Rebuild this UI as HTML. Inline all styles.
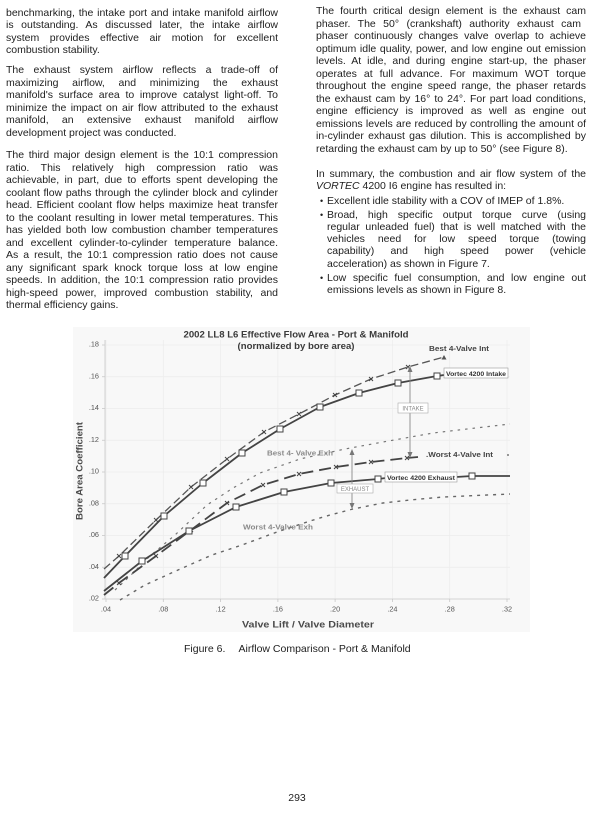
<!DOCTYPE html>
<html><head><meta charset="utf-8">
<style>
html,body{margin:0;padding:0;background:#fff;}
body{width:600px;height:815px;position:relative;overflow:hidden;}
.t{position:absolute;font-family:"Liberation Sans",Arial,sans-serif;font-size:10.5px;line-height:12.5px;color:#1e1e1e;white-space:nowrap;}
.L{left:6px;width:272px;}
.R{left:316px;width:270px;}
.B{left:327px;width:259px;}
.j{text-align:justify;text-align-last:justify;}
.bu{position:absolute;left:320px;font-family:"Liberation Sans",Arial,sans-serif;font-size:9px;line-height:12.5px;color:#1e1e1e;}
svg{position:absolute;left:0;top:0;}
</style></head><body>

<!-- Left column -->
<div class="t L j" style="top:6.8px">benchmarking, the intake port and intake manifold airflow</div>
<div class="t L j" style="top:19.3px">is outstanding. As discussed later, the intake airflow</div>
<div class="t L j" style="top:31.8px">system provides effective air motion for excellent</div>
<div class="t L" style="top:44.3px">combustion stability.</div>

<div class="t L j" style="top:64px">The exhaust system airflow reflects a trade-off of</div>
<div class="t L j" style="top:76.6px">maximizing airflow, and minimizing the exhaust</div>
<div class="t L j" style="top:89.2px">manifold's surface area to improve catalyst light-off. To</div>
<div class="t L j" style="top:101.8px">minimize the impact on air flow attributed to the exhaust</div>
<div class="t L j" style="top:114.4px">manifold, an extensive exhaust manifold airflow</div>
<div class="t L" style="top:127px">development project was conducted.</div>

<div class="t L j" style="top:149.3px">The third major design element is the 10:1 compression</div>
<div class="t L j" style="top:161.8px">ratio. This relatively high compression ratio was</div>
<div class="t L j" style="top:174.3px">achievable, in part, due to efforts spent developing the</div>
<div class="t L j" style="top:186.8px">coolant flow paths through the cylinder block and cylinder</div>
<div class="t L j" style="top:199.3px">head. Efficient coolant flow helps maximize heat transfer</div>
<div class="t L j" style="top:211.8px">to the coolant resulting in lower metal temperatures. This</div>
<div class="t L j" style="top:224.3px">has yielded both low combustion chamber temperatures</div>
<div class="t L j" style="top:236.8px">and excellent cylinder-to-cylinder temperature balance.</div>
<div class="t L j" style="top:249.3px">As a result, the 10:1 compression ratio does not cause</div>
<div class="t L j" style="top:261.8px">any significant spark knock torque loss at low engine</div>
<div class="t L j" style="top:274.3px">speeds. In addition, the 10:1 compression ratio provides</div>
<div class="t L j" style="top:286.8px">high-speed power, improved combustion stability, and</div>
<div class="t L" style="top:299.3px">thermal efficiency gains.</div>

<!-- Right column -->
<div class="t R j" style="top:5.2px">The fourth critical design element is the exhaust cam</div>
<div class="t R j" style="top:17.7px;width:265px">phaser. The 50° (crankshaft) authority exhaust cam</div>
<div class="t R j" style="top:30.2px">phaser continuously changes valve overlap to achieve</div>
<div class="t R j" style="top:42.6px">optimum idle quality, power, and low engine out emission</div>
<div class="t R j" style="top:55.1px">levels. At idle, and during engine start-up, the phaser</div>
<div class="t R j" style="top:67.6px">operates at full advance. For maximum WOT torque</div>
<div class="t R j" style="top:80.1px">throughout the engine speed range, the phaser retards</div>
<div class="t R j" style="top:92.6px">the exhaust cam by 16° to 24°. For part load conditions,</div>
<div class="t R j" style="top:105px">engine efficiency is improved as well as engine out</div>
<div class="t R j" style="top:117.5px">emissions levels are reduced by controlling the amount of</div>
<div class="t R j" style="top:130px">in-cylinder exhaust gas dilution. This is accomplished by</div>
<div class="t R" style="top:142.5px">retarding the exhaust cam by up to 50° (see Figure 8).</div>

<div class="t R j" style="top:167.5px">In summary, the combustion and air flow system of the</div>
<div class="t R" style="top:179.8px"><i>VORTEC</i> 4200 I6 engine has resulted in:</div>

<div class="bu" style="top:195.2px">•</div>
<div class="t B" style="top:195.2px">Excellent idle stability with a COV of IMEP of 1.8%.</div>

<div class="bu" style="top:208.5px">•</div>
<div class="t B j" style="top:208.5px">Broad, high specific output torque curve (using</div>
<div class="t B j" style="top:220.8px">regular unleaded fuel) that is well matched with the</div>
<div class="t B j" style="top:233.1px">vehicles need for low speed torque (towing</div>
<div class="t B j" style="top:245.4px">capability) and high speed power (vehicle</div>
<div class="t B" style="top:257.7px">acceleration) as shown in Figure 7.</div>

<div class="bu" style="top:271.8px">•</div>
<div class="t B j" style="top:271.8px">Low specific fuel consumption, and low engine out</div>
<div class="t B" style="top:284.1px">emissions levels as shown in Figure 8.</div>

<svg width="600" height="815" viewBox="0 0 600 815" xmlns="http://www.w3.org/2000/svg" font-family="Liberation Sans, Arial, sans-serif">
  <!-- chart background -->
  <rect x="73" y="327" width="457" height="305" fill="#f8f8f8"/>
  <!-- grid -->
  <g stroke="#ececec" stroke-width="0.7">
    <line x1="106" y1="340" x2="106" y2="599"/>
    <line x1="163.3" y1="340" x2="163.3" y2="599"/>
    <line x1="220.6" y1="340" x2="220.6" y2="599"/>
    <line x1="277.9" y1="340" x2="277.9" y2="599"/>
    <line x1="335.1" y1="340" x2="335.1" y2="599"/>
    <line x1="392.4" y1="340" x2="392.4" y2="599"/>
    <line x1="449.7" y1="340" x2="449.7" y2="599"/>
    <line x1="507" y1="340" x2="507" y2="599"/>
    <line x1="105" y1="567.25" x2="510" y2="567.25"/>
    <line x1="105" y1="535.5" x2="510" y2="535.5"/>
    <line x1="105" y1="503.75" x2="510" y2="503.75"/>
    <line x1="105" y1="472" x2="510" y2="472"/>
    <line x1="105" y1="440.25" x2="510" y2="440.25"/>
    <line x1="105" y1="408.5" x2="510" y2="408.5"/>
    <line x1="105" y1="376.75" x2="510" y2="376.75"/>
    <line x1="105" y1="345" x2="510" y2="345"/>
  </g>
  <!-- axes -->
  <g stroke="#c8c8c8" stroke-width="0.8">
    <line x1="105" y1="340" x2="105" y2="599"/>
    <line x1="105" y1="599" x2="510" y2="599"/>
    <line x1="102" y1="599" x2="105" y2="599"/><line x1="102" y1="567.25" x2="105" y2="567.25"/>
    <line x1="102" y1="535.5" x2="105" y2="535.5"/><line x1="102" y1="503.75" x2="105" y2="503.75"/>
    <line x1="102" y1="472" x2="105" y2="472"/><line x1="102" y1="440.25" x2="105" y2="440.25"/>
    <line x1="102" y1="408.5" x2="105" y2="408.5"/><line x1="102" y1="376.75" x2="105" y2="376.75"/>
    <line x1="102" y1="345" x2="105" y2="345"/>
    <line x1="106" y1="599" x2="106" y2="602"/><line x1="163.3" y1="599" x2="163.3" y2="602"/>
    <line x1="220.6" y1="599" x2="220.6" y2="602"/><line x1="277.9" y1="599" x2="277.9" y2="602"/>
    <line x1="335.1" y1="599" x2="335.1" y2="602"/><line x1="392.4" y1="599" x2="392.4" y2="602"/>
    <line x1="449.7" y1="599" x2="449.7" y2="602"/><line x1="507" y1="599" x2="507" y2="602"/>
  </g>
  <!-- y tick labels -->
  <g font-size="7.3" fill="#555" text-anchor="end">
    <text x="99" y="346.7">.18</text>
    <text x="99" y="378.5">.16</text>
    <text x="99" y="410.2">.14</text>
    <text x="99" y="442">.12</text>
    <text x="99" y="473.7">.10</text>
    <text x="99" y="505.5">.08</text>
    <text x="99" y="537.2">.06</text>
    <text x="99" y="569">.04</text>
    <text x="99" y="600.7">.02</text>
  </g>
  <!-- x tick labels -->
  <g font-size="7.3" fill="#555" text-anchor="middle">
    <text x="106" y="611.5">.04</text>
    <text x="163.3" y="611.5">.08</text>
    <text x="220.6" y="611.5">.12</text>
    <text x="277.9" y="611.5">.16</text>
    <text x="335.1" y="611.5">.20</text>
    <text x="392.4" y="611.5">.24</text>
    <text x="449.7" y="611.5">.28</text>
    <text x="507" y="611.5">.32</text>
  </g>
  <!-- titles -->
  <text x="296" y="337.7" font-size="9.5" font-weight="bold" fill="#3a3a3a" text-anchor="middle" textLength="225" lengthAdjust="spacingAndGlyphs">2002 LL8 L6 Effective Flow Area - Port &amp; Manifold</text>
  <text x="296" y="349" font-size="9.5" font-weight="bold" fill="#3a3a3a" text-anchor="middle" textLength="117" lengthAdjust="spacingAndGlyphs">(normalized by bore area)</text>
  <text x="308" y="627.5" font-size="9.5" font-weight="bold" fill="#4a4a4a" text-anchor="middle" textLength="132" lengthAdjust="spacingAndGlyphs">Valve Lift / Valve Diameter</text>
  <text transform="translate(82.3,471) rotate(-90)" font-size="9" font-weight="bold" fill="#4a4a4a" text-anchor="middle" textLength="98" lengthAdjust="spacingAndGlyphs">Bore Area Coefficient</text>

  <!-- Worst 4-Valve Exh (dotted) -->
  <polyline fill="none" stroke="#666" stroke-width="1.4" stroke-dasharray="3 5"
    points="120,600 145,585 178,570 212,555 242,545 277,532 310,521 330,515 353,509 383,503 410,500 443,497 510,494"/>
  <!-- Best 4-Valve Exh (dotted fine) -->
  <polyline fill="none" stroke="#777" stroke-width="1.2" stroke-dasharray="2.5 5"
    points="115,590 130,576 150,556 175,535 207,505 233,488 260,473 300,459 345,449 383,442 433,433 510,424"/>
  <!-- Worst 4-Valve Int (long dash) -->
  <polyline fill="none" stroke="#444" stroke-width="1.8" stroke-dasharray="12 6"
    points="104,595 119,583 156,556 191,530 227,503 263,485 299,474 336,467 371,462 407,458 418,457"/>
  <!-- Best 4-Valve Int (dashed) -->
  <polyline fill="none" stroke="#555" stroke-width="1.3" stroke-dasharray="8 4"
    points="104,569 119,556 156,520 191,487 227,459 264,432 299,414 335,395 371,379 408,367 444,357"/>
  <!-- Vortec Intake (solid) -->
  <polyline fill="none" stroke="#444" stroke-width="1.8" stroke-linejoin="round"
    points="104,578 125,556 164,516 203,483 242,453 280,429 320,407 359,393 398,383 437,376 444,375"/>
  <!-- Vortec Exhaust (solid) -->
  <polyline fill="none" stroke="#444" stroke-width="1.8" stroke-linejoin="round"
    points="104,591 142,561 189,531 236,507 284,492 331,483 378,479 386,478"/>
  <polyline fill="none" stroke="#444" stroke-width="1.8" points="456,477 472,476 510,476"/>

  <!-- x markers -->
  <g stroke="#444" stroke-width="1" fill="none">
    <path d="M117,554L121,558M121,554L117,558 M154,518L158,522M158,518L154,522 M189,485L193,489M193,485L189,489 M225,457L229,461M229,457L225,461 M262,430L266,434M266,430L262,434 M297,412L301,416M301,412L297,416 M333,393L337,397M337,393L333,397 M369,377L373,381M373,377L369,381 M406,365L410,369M410,365L406,369"/>
    <path d="M117,581L121,585M121,581L117,585 M154,554L158,558M158,554L154,558 M189,528L193,532M193,528L189,532 M225,501L229,505M229,501L225,505 M261,483L265,487M265,483L261,487 M297,472L301,476M301,472L297,476 M334,465L338,469M338,465L334,469 M369,460L373,464M373,460L369,464 M405,456L409,460M409,456L405,460"/>
  </g>
  <polygon points="444,355 441.5,359.5 446.5,359.5" fill="#555"/>

  <!-- square markers -->
  <g fill="#fff" stroke="#444" stroke-width="1">
    <rect x="122" y="553" width="6" height="6"/><rect x="161" y="513" width="6" height="6"/>
    <rect x="200" y="480" width="6" height="6"/><rect x="239" y="450" width="6" height="6"/>
    <rect x="277" y="426" width="6" height="6"/><rect x="317" y="404" width="6" height="6"/>
    <rect x="356" y="390" width="6" height="6"/><rect x="395" y="380" width="6" height="6"/>
    <rect x="434" y="373" width="6" height="6"/>
    <rect x="139" y="558" width="6" height="6"/><rect x="186" y="528" width="6" height="6"/>
    <rect x="233" y="504" width="6" height="6"/><rect x="281" y="489" width="6" height="6"/>
    <rect x="328" y="480" width="6" height="6"/><rect x="375" y="476" width="6" height="6"/>
    <rect x="469" y="473" width="6" height="6"/>
  </g>

  <!-- range arrows -->
  <g stroke="#888" stroke-width="0.9">
    <line x1="410" y1="370" x2="410" y2="454"/>
    <line x1="352" y1="452" x2="352" y2="506"/>
  </g>
  <g fill="#777">
    <polygon points="410,366 407.5,372 412.5,372"/>
    <polygon points="410,458 407.5,452 412.5,452"/>
    <polygon points="352,449 349.5,455 354.5,455"/>
    <polygon points="352,509 349.5,503 354.5,503"/>
  </g>

  <!-- label boxes -->
  <rect x="398" y="403" width="30" height="10" fill="#fff" stroke="#aaa" stroke-width="0.6"/>
  <text x="413" y="410.6" font-size="6" fill="#888" text-anchor="middle">INTAKE</text>
  <rect x="337" y="484" width="36" height="9" fill="#fff" stroke="#aaa" stroke-width="0.6"/>
  <text x="355" y="491" font-size="6" fill="#888" text-anchor="middle">EXHAUST</text>

  <rect x="444" y="368" width="64" height="10" fill="#fff" stroke="#999" stroke-width="0.6"/>
  <text x="446" y="375.8" font-size="6.4" font-weight="bold" fill="#333" textLength="60" lengthAdjust="spacingAndGlyphs">Vortec 4200 Intake</text>
  <rect x="385" y="472" width="72" height="10" fill="#fff" stroke="#999" stroke-width="0.6"/>
  <text x="387" y="479.8" font-size="6.4" font-weight="bold" fill="#333" textLength="68" lengthAdjust="spacingAndGlyphs">Vortec 4200 Exhaust</text>

  <!-- series labels -->
  <text x="429" y="350.8" font-size="7.4" font-weight="bold" fill="#444" textLength="60" lengthAdjust="spacingAndGlyphs">Best 4-Valve Int</text>
  <text x="426" y="456.8" font-size="7.4" font-weight="bold" fill="#444" textLength="67" lengthAdjust="spacingAndGlyphs">.Worst 4-Valve Int</text>
  <circle cx="508" cy="455" r="0.9" fill="#555"/>
  <text x="267" y="455.6" font-size="7" font-weight="bold" fill="#8a8a8a" textLength="66" lengthAdjust="spacingAndGlyphs">Best 4- Valve Exh</text>
  <text x="243" y="529.6" font-size="7" font-weight="bold" fill="#8a8a8a" textLength="70" lengthAdjust="spacingAndGlyphs">Worst 4-Valve Exh</text>

  <!-- caption -->
  <text x="184" y="651.8" font-size="10.5" fill="#1e1e1e">Figure 6.</text>
  <text x="238.5" y="651.8" font-size="10.5" fill="#1e1e1e">Airflow Comparison - Port &amp; Manifold</text>

  <!-- page number -->
  <text x="297" y="800.8" font-size="10.5" fill="#1e1e1e" text-anchor="middle">293</text>
</svg>
</body></html>
